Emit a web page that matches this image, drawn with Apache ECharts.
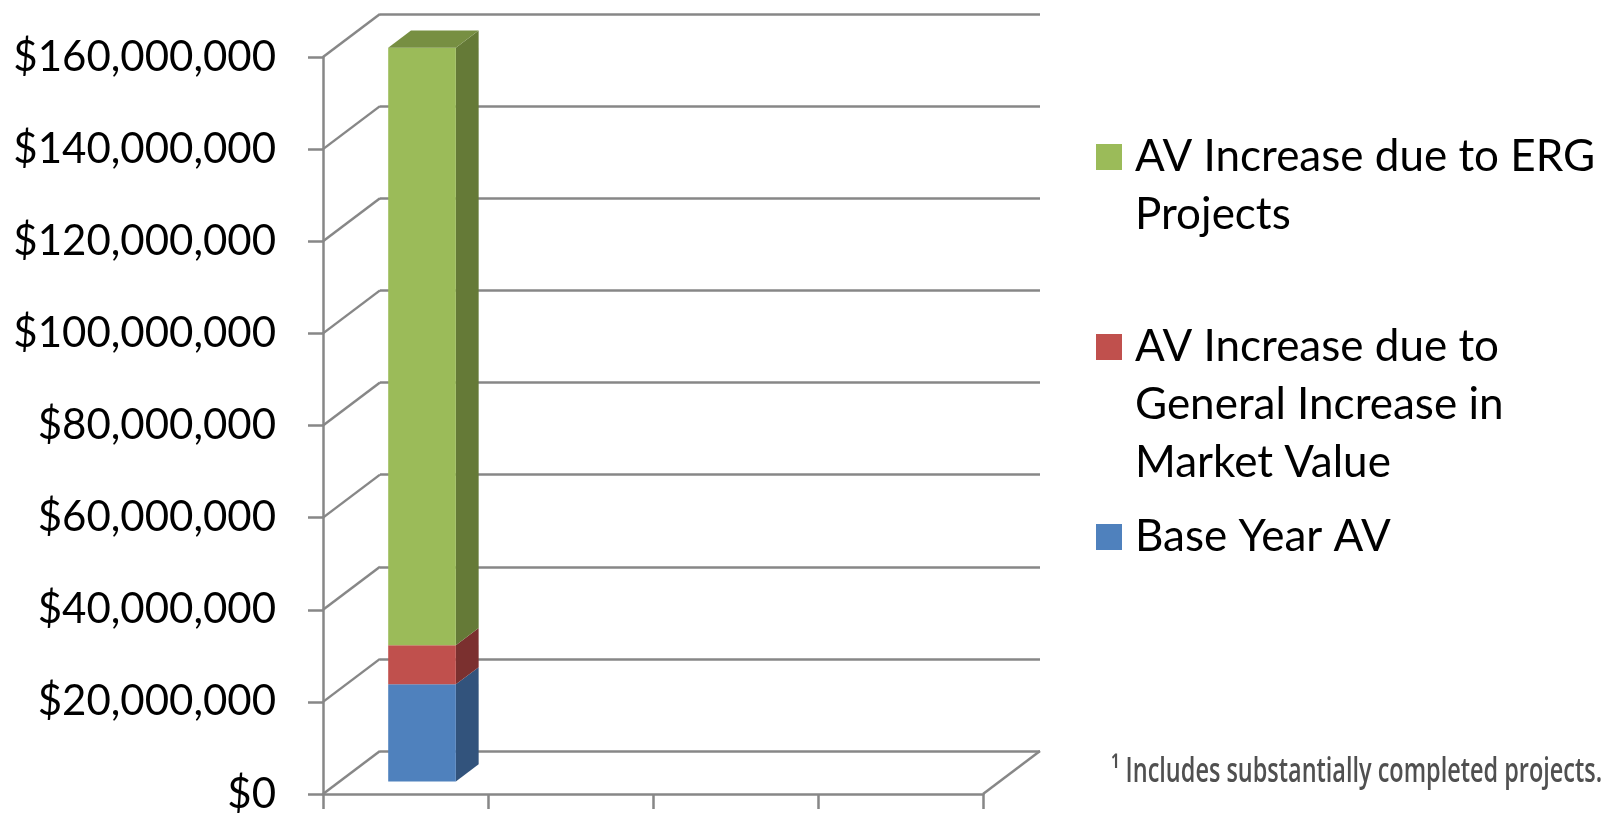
<!DOCTYPE html>
<html>
<head>
<meta charset="utf-8">
<script src="https://cdn.jsdelivr.net/npm/echarts@6/dist/echarts.min.js"></script>
<style>
  html, body { margin: 0; padding: 0; background: #ffffff; }
  #chart { width: 1604px; height: 818px; }
</style>
</head>
<body>
<div id="chart"></div>
<script>
// ---- data ----
const categories = ['', '', '', ''];
const seriesNames = [
  'Base Year AV',
  'AV Increase due to General Increase in Market Value',
  'AV Increase due to ERG Projects'
];
const legendLabels = [
  'Base Year AV',
  'AV Increase due to\nGeneral Increase in\nMarket Value',
  'AV Increase due to ERG\nProjects'
];
const baseYearAV      = [21100000, null, null, null];
const generalIncrease = [8500000, null, null, null];
const ergIncrease     = [129700000, null, null, null];
const yTicks = [0, 20000000, 40000000, 60000000, 80000000, 100000000, 120000000, 140000000, 160000000];
const footnote = '\u00B9 Includes substantially completed projects.';

// ---- styling ----
const FONT = 'Lato';
const GRID_COLOR = '#878787';
const LINE_W = 2.5;
const DX = 57, DY = 43;              // depth offset of the back wall
const D_FRONT = 0.29, D_BACK = 0.69; // bar depth span (fraction of full depth)
const BAR_RATIO = 0.41;
const faces = [
  { front: '#4F81BD', side: '#32537C', top: '#3F6797' },
  { front: '#C0504D', side: '#7B302F', top: '#9A3F3D' },
  { front: '#9BBB59', side: '#657A37', top: '#778F42' }
];

const seriesValues = [baseYearAV, generalIncrease, ergIncrease];

// stacked [category, low, high] segments for each series
function stackedSegments() {
  const out = seriesValues.map(() => []);
  categories.forEach((c, ci) => {
    let acc = 0;
    seriesValues.forEach((arr, si) => {
      const v = arr[ci];
      if (v == null) return;
      out[si].push([ci, acc, acc + v]);
      acc += v;
    });
  });
  return out;
}
const segments = stackedSegments();

function barRenderer(si, isTop) {
  const col = faces[si];
  return function (params, api) {
    const cat = api.value(0), lo = api.value(1), hi = api.value(2);
    const pLo = api.coord([cat, lo]);
    const pHi = api.coord([cat, hi]);
    const band = api.size([1, 0])[0];
    const w = band * BAR_RATIO;
    const xl = pLo[0] - w / 2, xr = pLo[0] + w / 2;
    const fx1 = D_FRONT * DX, fy1 = D_FRONT * DY;
    const fx2 = D_BACK * DX, fy2 = D_BACK * DY;
    const children = [
      {
        type: 'polygon',
        shape: { points: [
          [xr + fx1, pHi[1] - fy1], [xr + fx2, pHi[1] - fy2],
          [xr + fx2, pLo[1] - fy2], [xr + fx1, pLo[1] - fy1]
        ] },
        style: { fill: col.side }
      },
      {
        type: 'rect',
        shape: { x: xl + fx1, y: pHi[1] - fy1, width: w, height: pLo[1] - pHi[1] },
        style: { fill: col.front }
      }
    ];
    if (isTop) {
      children.push({
        type: 'polygon',
        shape: { points: [
          [xl + fx1, pHi[1] - fy1], [xr + fx1, pHi[1] - fy1],
          [xr + fx2, pHi[1] - fy2], [xl + fx2, pHi[1] - fy2]
        ] },
        style: { fill: col.top }
      });
    }
    return { type: 'group', children: children };
  };
}

// diagonal wall/floor edges joining the front axis to the back wall
function edgeRenderer(params, api) {
  const v = api.value(0);
  const cs = params.coordSys;
  const p = api.coord([0, v]);
  const x0 = cs.x;
  const style = { stroke: GRID_COLOR, lineWidth: LINE_W };
  const children = [{
    type: 'line',
    shape: { x1: x0, y1: p[1], x2: x0 + DX, y2: p[1] - DY },
    style: style
  }];
  if (params.dataIndex === 0) {
    const xr = cs.x + cs.width;
    children.push({
      type: 'line',
      shape: { x1: xr, y1: p[1], x2: xr + DX, y2: p[1] - DY },
      style: style
    });
  }
  return { type: 'group', children: children };
}

const yMin = yTicks[0], yMax = yTicks[yTicks.length - 1], yStep = yTicks[1] - yTicks[0];
const money = v => '$' + Number(v).toLocaleString('en-US');

const FRONT = { left: 323, top: 57, right: 621, bottom: 24 };
const BACK = { left: FRONT.left + DX, top: FRONT.top - DY, right: FRONT.right - DX, bottom: FRONT.bottom + DY };

// Legend entries: the swatch sits beside the first line of a wrapped label.
// Leading empty lines keep the first text line centred on the swatch.
const LINE_H = 58;
function legendText(si) {
  const n = legendLabels[si].split('\n').length;
  return '\n'.repeat(n - 1) + legendLabels[si];
}
function legendFor(si, iconCenter) {
  const n = legendLabels[si].split('\n').length;
  const boxH = LINE_H * (2 * n - 1);
  return {
    orient: 'vertical',
    left: 1096,
    top: iconCenter - boxH / 2,
    padding: 0,
    selectedMode: false,
    itemWidth: 26,
    itemHeight: 26,
    data: [{ name: seriesNames[si], icon: 'rect', itemStyle: { color: faces[si].front } }],
    formatter: () => legendText(si),
    textStyle: {
      fontFamily: FONT,
      fontSize: 44,
      color: '#000000',
      lineHeight: LINE_H,
      padding: [0, 0, 0, 8]
    }
  };
}

const chart = echarts.init(document.getElementById('chart'), null, { renderer: 'canvas' });

const option = {
  backgroundColor: '#ffffff',
  animation: false,
  grid: [
    Object.assign({ outerBoundsMode: 'none', containLabel: false }, FRONT),
    Object.assign({ outerBoundsMode: 'none', containLabel: false }, BACK)
  ],
  xAxis: [
    {
      type: 'category', gridIndex: 0, data: categories, boundaryGap: true,
      axisLine: { show: true, lineStyle: { color: GRID_COLOR, width: LINE_W } },
      axisTick: { show: true, length: 15, interval: 0, lineStyle: { color: GRID_COLOR, width: LINE_W } },
      axisLabel: { show: false },
      splitLine: { show: false }
    },
    {
      type: 'category', gridIndex: 1, data: categories, boundaryGap: true,
      axisLine: { show: false }, axisTick: { show: false }, axisLabel: { show: false },
      splitLine: { show: false }
    }
  ],
  yAxis: [
    {
      type: 'value', gridIndex: 0, min: yMin, max: yMax, interval: yStep,
      axisLine: { show: true, lineStyle: { color: GRID_COLOR, width: LINE_W } },
      axisTick: { show: true, length: 15, lineStyle: { color: GRID_COLOR, width: LINE_W } },
      axisLabel: { show: true, margin: 47, formatter: money, fontFamily: FONT, fontSize: 42, color: '#000000' },
      splitLine: { show: false }
    },
    {
      type: 'value', gridIndex: 1, min: yMin, max: yMax, interval: yStep,
      axisLine: { show: false }, axisTick: { show: false }, axisLabel: { show: false },
      splitLine: { show: true, lineStyle: { color: GRID_COLOR, width: LINE_W } }
    }
  ],
  legend: [
    legendFor(2, 157),
    legendFor(1, 347),
    legendFor(0, 537)
  ],
  graphic: [{
    type: 'text',
    x: 1111, y: 772,
    scaleX: 0.69,
    style: {
      text: footnote,
      fontFamily: 'Open Sans',
      fontWeight: 600,
      fontSize: 34,
      fill: '#505050',
      verticalAlign: 'middle',
      align: 'left'
    }
  }],
  series: [
    {
      type: 'custom', name: 'edges', xAxisIndex: 0, yAxisIndex: 0, z: 1,
      data: yTicks.map(v => [v]),
      encode: { y: 0 },
      renderItem: edgeRenderer,
      silent: true
    }
  ].concat(seriesNames.map((name, si) => ({
    type: 'custom',
    name: name,
    xAxisIndex: 0, yAxisIndex: 0, z: 5 + si,
    itemStyle: { color: faces[si].front },
    data: segments[si],
    encode: { x: 0, y: [1, 2] },
    renderItem: barRenderer(si, si === seriesNames.length - 1)
  })))
};

chart.setOption(option);
</script>
</body>
</html>
